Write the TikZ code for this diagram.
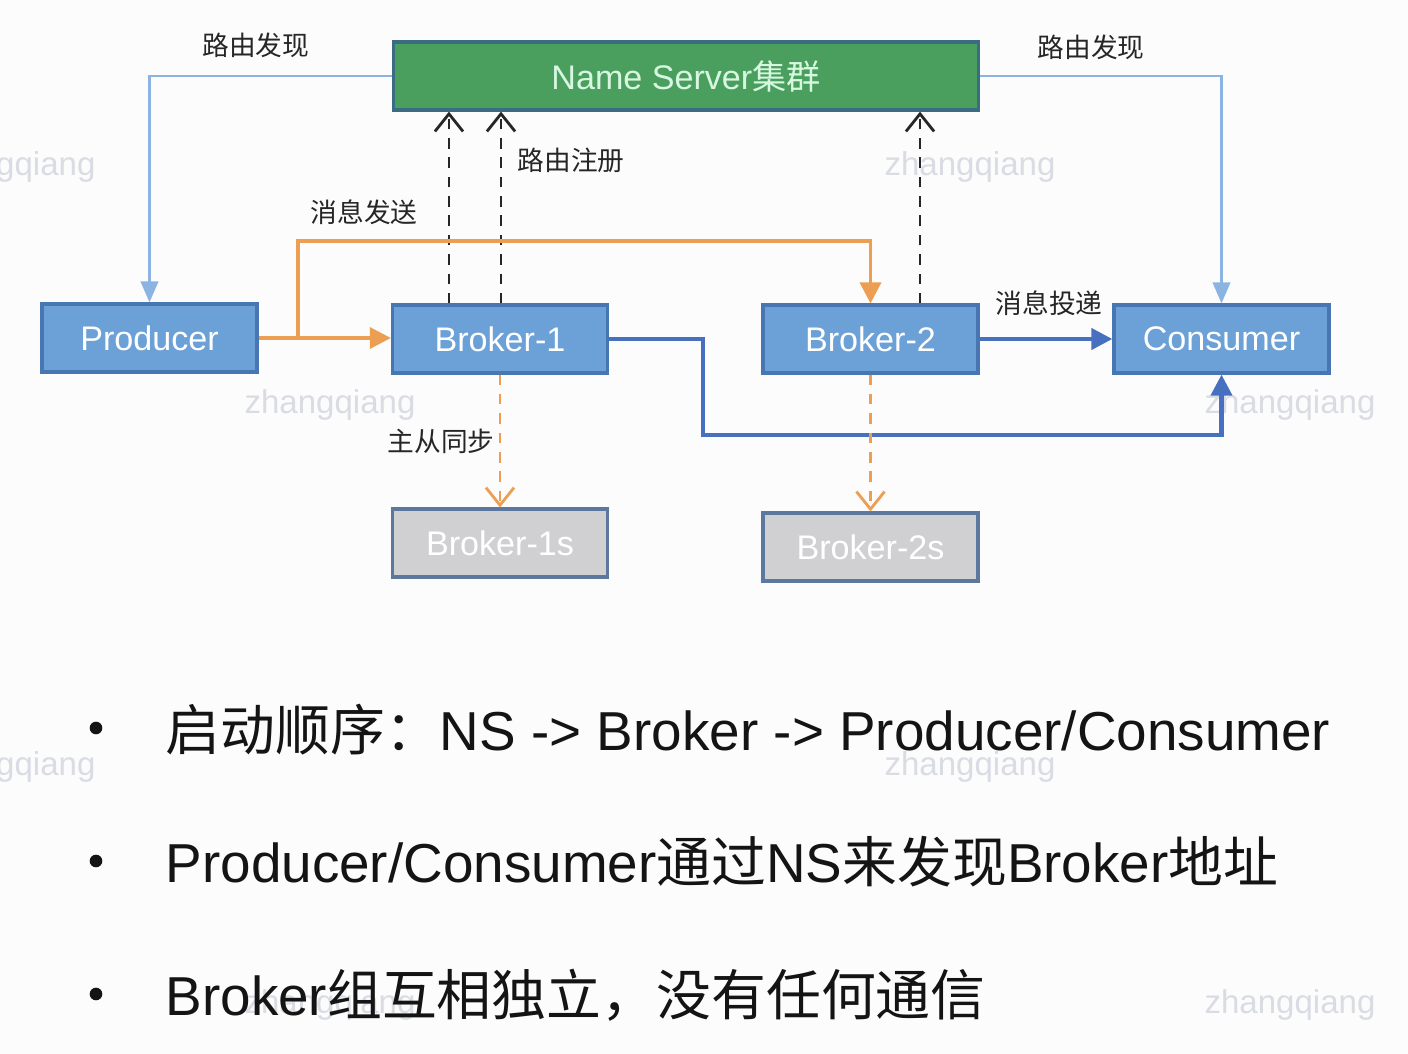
\documentclass[tikz,border=0pt]{standalone}
\usepackage{fontspec}
\setmainfont{Liberation Sans}
\newfontfamily\cjk{Noto Sans CJK SC}
\usetikzlibrary{arrows.meta,calc}
\definecolor{boxblue}{RGB}{108,161,215}
\definecolor{boxblueborder}{RGB}{72,118,178}
\definecolor{nsgreen}{RGB}{74,159,94}
\definecolor{nsborder}{RGB}{58,108,130}
\definecolor{nstext}{RGB}{215,247,225}
\definecolor{slavegray}{RGB}{208,208,210}
\definecolor{slaveborder}{RGB}{92,120,158}
\definecolor{sendorange}{RGB}{236,158,82}
\definecolor{routeblue}{RGB}{140,180,226}
\definecolor{deliverblue}{RGB}{72,112,192}
\definecolor{wmgray}{RGB}{218,220,228}
\tikzset{
  boxbase/.style={draw, line width=0.9pt, minimum width=2.15cm, minimum height=0.68cm, inner sep=0pt,
    font=\fontsize{9.7pt}{11pt}\selectfont},
  bluebox/.style={boxbase, fill=boxblue, draw=boxblueborder, text=white},
  slavebox/.style={boxbase, fill=slavegray, draw=slaveborder, text=white},
  nsbox/.style={boxbase, fill=nsgreen, draw=nsborder, text=nstext, minimum width=5.84cm},
  lbl/.style={font=\fontsize{7.6pt}{9pt}\selectfont\cjk, text=black!85},
  wm/.style={font=\fontsize{9.4pt}{11pt}\selectfont, text=wmgray},
  routeline/.style={draw=routeblue, line width=0.7pt, -{Triangle[width=5pt,length=6pt]}},
  regarrow/.style={draw=black!85, line width=0.8pt, dash pattern=on 3pt off 2.5pt, -{Straight Barb[width=8pt,length=5pt]}},
  sendline/.style={draw=sendorange, line width=1pt, -{Triangle[width=6pt,length=6pt]}},
  syncarrow/.style={draw=sendorange, line width=0.8pt, dash pattern=on 3pt off 2.5pt, -{Straight Barb[width=8pt,length=5pt]}},
  deliverline/.style={draw=deliverblue, line width=1.2pt, -{Triangle[width=6pt,length=6pt]}},
  bullettext/.style={anchor=base west, font=\fontsize{15.6pt}{18pt}\selectfont, text=black!92, inner sep=0pt},
}
\begin{document}
\begin{tikzpicture}[x=0.01cm,y=-0.01cm]
\clip (0,0) rectangle (1408,1054);
\fill[white!98!gray] (0,0) rectangle (1408,1054);

% watermarks
\foreach \px/\py in {10/167, 970/167, 330/405, 1290/405, 10/767, 970/767, 330/1005, 1290/1005}
  \node[wm] (wm-\px-\py) at (\px,\py) {zhangqiang};

% nodes
\node[nsbox] (ns) at (686,76) {Name Server{\cjk 集群}};
\node[bluebox] (prod) at (149.5,338) {Producer};
\node[bluebox] (b1) at (500,339) {Broker-1};
\node[bluebox] (b2) at (870.5,339) {Broker-2};
\node[bluebox] (cons) at (1221.5,339) {Consumer};
\node[slavebox] (b1s) at (500,543) {Broker-1s};
\node[slavebox] (b2s) at (870.5,547) {Broker-2s};

% route discovery
\draw[routeline] (ns.west) -| (prod.north);
\draw[routeline] (ns.east) -| (cons.north);
\node[lbl] (lrd1) at (256,45) {路由发现};
\node[lbl] (lrd2) at (1091,47) {路由发现};

% route registration
\draw[regarrow] ([xshift=-0.51cm]b1.north) -- ([xshift=-0.51cm]b1.north |- ns.south);
\draw[regarrow] ([xshift=0.01cm]b1.north) -- ([xshift=0.01cm]b1.north |- ns.south);
\draw[regarrow] ([xshift=0.495cm]b2.north) -- ([xshift=0.495cm]b2.north |- ns.south);
\node[lbl] (lreg) at (571,160) {路由注册};

% message send
\draw[sendline] (prod.east) -- (b1.west |- prod.east);
\coordinate (branch) at (298,338);
\draw[sendline] (branch) -- (298,241) -| (b2.north);
\node[lbl] (lsend) at (364,212) {消息发送};

% delivery
\draw[deliverline] (b2.east) -- (cons.west);
\draw[deliverline] (b1.east) -- (703,339) -- (703,435) -| (cons.south);
\node[lbl] (ldel) at (1049,303) {消息投递};

% master-slave sync
\draw[syncarrow] (b1.south) -- (b1s.north);
\draw[syncarrow] (b2.south) -- (b2s.north);
\node[lbl] (lsync) at (441,441) {主从同步};

% bullets
\foreach \by [count=\i] in {728,861,994}
  \fill[black!92] (96,\by) circle[radius=1.8pt];
\node[bullettext] (t1) at (165,750) {{\cjk 启动顺序：}NS -> Broker -> Producer/Consumer};
\node[bullettext] (t2) at (165,882) {Producer/Consumer{\cjk 通过}NS{\cjk 来发现}Broker{\cjk 地址}};
\node[bullettext] (t3) at (165,1015) {Broker{\cjk 组互相独立，没有任何通信}};
\end{tikzpicture}
\end{document}
